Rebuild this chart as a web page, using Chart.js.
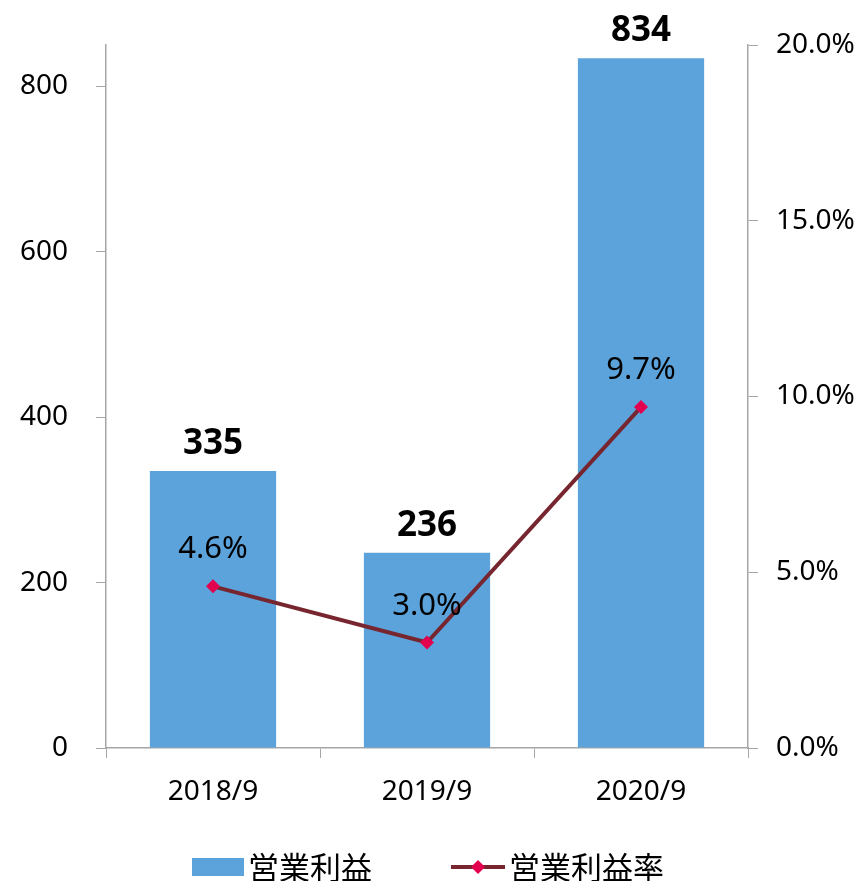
<!DOCTYPE html>
<html lang="ja">
<head>
    <meta charset="UTF-8">
    <title>営業利益</title>
    <script src="https://cdn.jsdelivr.net/npm/chart.js"></script>
    <style>
        body { margin: 0; padding: 0; background: #ffffff; }
        #wrap { width: 861px; height: 881px; }
    </style>
</head>
<body>
    <div id="wrap"><canvas id="chart"></canvas></div>

    <script>
        // データ
        const categories = ["2018/9", "2019/9", "2020/9"];
        const profit = [335, 236, 834];
        const profitRate = [4.6, 3.0, 9.7];
        const seriesNames = ["営業利益", "営業利益率"];

        const barColor = "#5BA3DA";
        const lineColor = "#772630";
        const markerColor = "#E2004F";
        const axisColor = "#A6A6A6";
        const numFont = "'Noto Sans', sans-serif";
        const jpFont = "'Noto Sans CJK JP', sans-serif";

        // データラベル
        const labelPlugin = {
            id: "labels",
            afterDatasetsDraw(chart) {
                const ctx = chart.ctx;
                ctx.save();
                ctx.fillStyle = "#000";
                ctx.textAlign = "center";
                ctx.textBaseline = "alphabetic";

                ctx.font = "bold 35px " + numFont;
                chart.getDatasetMeta(0).data.forEach((bar, i) => {
                    ctx.fillText(String(profit[i]), bar.x, bar.y - 17);
                });

                ctx.font = "31px " + numFont;
                chart.getDatasetMeta(1).data.forEach((pt, i) => {
                    ctx.fillText(profitRate[i].toFixed(1) + "%", pt.x, pt.y - 28);
                });
                ctx.restore();
            }
        };

        // 凡例
        const legendPlugin = {
            id: "customLegend",
            afterDraw(chart) {
                const ctx = chart.ctx;
                const y = chart.height - 14;
                ctx.save();
                ctx.font = "31px " + jpFont;
                ctx.textBaseline = "middle";

                ctx.fillStyle = barColor;
                ctx.fillRect(192, y - 9, 52, 18);
                ctx.fillStyle = "#000";
                ctx.fillText(seriesNames[0], 248, y);

                ctx.strokeStyle = lineColor;
                ctx.lineWidth = 4;
                ctx.beginPath();
                ctx.moveTo(451, y);
                ctx.lineTo(505, y);
                ctx.stroke();
                ctx.fillStyle = markerColor;
                ctx.beginPath();
                ctx.moveTo(478, y - 7);
                ctx.lineTo(485, y);
                ctx.lineTo(478, y + 7);
                ctx.lineTo(471, y);
                ctx.closePath();
                ctx.fill();
                ctx.fillStyle = "#000";
                ctx.fillText(seriesNames[1], 509, y);
                ctx.restore();
            }
        };

        new Chart(document.getElementById("chart"), {
            data: {
                labels: categories,
                datasets: [
                    {
                        type: "bar",
                        label: seriesNames[0],
                        data: profit,
                        backgroundColor: barColor,
                        yAxisID: "y",
                        barPercentage: 1,
                        categoryPercentage: 0.59,
                        order: 2
                    },
                    {
                        type: "line",
                        label: seriesNames[1],
                        data: profitRate,
                        borderColor: lineColor,
                        borderWidth: 4,
                        pointStyle: "rectRot",
                        pointRadius: 7,
                        pointBackgroundColor: markerColor,
                        pointBorderColor: markerColor,
                        pointBorderWidth: 0,
                        tension: 0,
                        yAxisID: "y1",
                        order: 1
                    }
                ]
            },
            options: {
                responsive: true,
                maintainAspectRatio: false,
                animation: false,
                layout: { padding: { top: 45, bottom: 61, left: 0, right: 0 } },
                plugins: {
                    legend: { display: false },
                    tooltip: { enabled: false }
                },
                scales: {
                    x: {
                        offset: true,
                        grid: { drawOnChartArea: false, drawTicks: true, tickLength: 10, color: axisColor, offset: true },
                        border: { color: axisColor, width: 1.5 },
                        ticks: { color: "#000", font: { family: numFont, size: 28 }, padding: 17 },
                        afterFit(scale) { scale.height = 72; }
                    },
                    y: {
                        position: "left",
                        min: 0,
                        max: 850,
                        grid: { drawOnChartArea: false, drawTicks: true, tickLength: 10, color: axisColor },
                        border: { color: axisColor, width: 1.5 },
                        ticks: { stepSize: 200, color: "#000", font: { family: numFont, size: 28 }, padding: 28 },
                        afterBuildTicks(scale) {
                            scale.ticks = scale.ticks.filter(t => t.value % 200 === 0);
                        },
                        afterFit(scale) { scale.width = 106; }
                    },
                    y1: {
                        position: "right",
                        min: 0,
                        max: 20,
                        grid: { drawOnChartArea: false, drawTicks: true, tickLength: 10, color: axisColor },
                        border: { color: axisColor, width: 1.5 },
                        ticks: {
                            stepSize: 5,
                            color: "#000",
                            font: { family: numFont, size: 28 },
                            padding: 18,
                            callback: v => v.toFixed(1) + "%"
                        },
                        afterFit(scale) { scale.width = 113; }
                    }
                }
            },
            plugins: [labelPlugin, legendPlugin]
        });
    </script>
</body>
</html>
